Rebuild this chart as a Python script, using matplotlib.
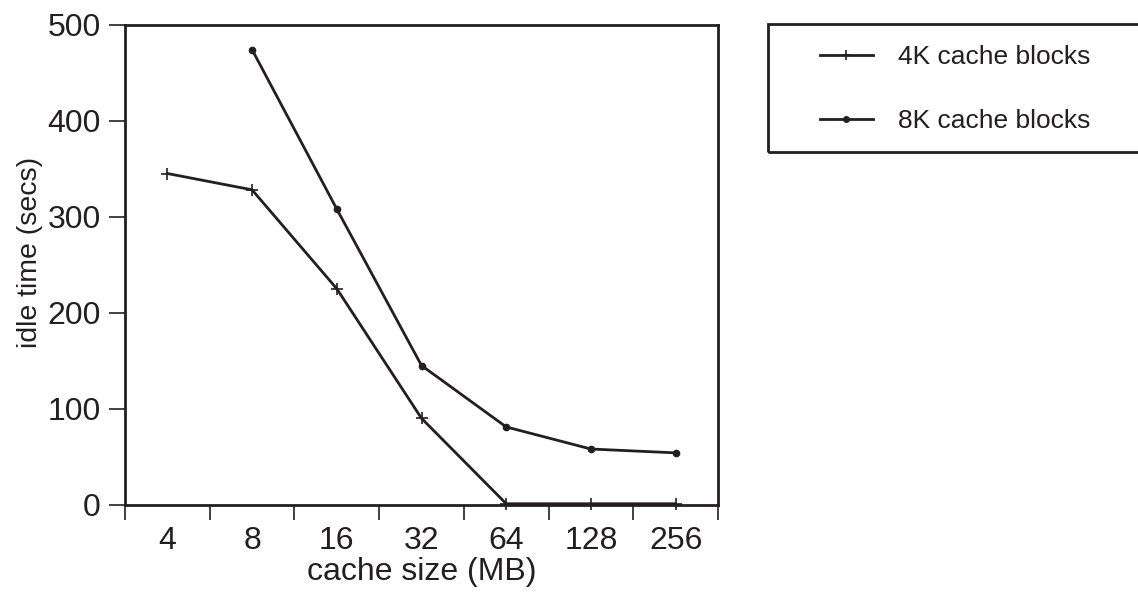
import matplotlib
matplotlib.use("Agg")
import matplotlib.pyplot as plt
from matplotlib.patches import Rectangle
from matplotlib.lines import Line2D

plt.rcParams['font.family'] = ['Liberation Sans', 'DejaVu Sans']

categories = ["4", "8", "16", "32", "64", "128", "256"]
blocks_4k = [345, 328, 225, 90, 1, 1, 1]
blocks_8k_cats = ["8", "16", "32", "64", "128", "256"]
blocks_8k = [474, 308, 145, 81, 58, 54]
yticks = [0, 100, 200, 300, 400, 500]
series_labels = ["4K cache blocks", "8K cache blocks"]

C = '#231f20'

fig = plt.figure(figsize=(11.38, 5.95), dpi=100)
ax = fig.add_axes([125/1138, 1-504.7/595, (718-125)/1138, (504.7-24.7)/595])

x4 = [categories.index(c) for c in categories]
x8 = [categories.index(c) for c in blocks_8k_cats]
ax.plot(x4, blocks_4k, color=C, lw=2, marker='+', ms=8, mew=1.2, clip_on=False, zorder=3)
ax.plot(x8, blocks_8k, color=C, lw=2, marker='o', ms=4.5, clip_on=False, zorder=3)

ax.set_xlim(-0.5, len(categories) - 0.5)
ax.set_ylim(0, 500)
ax.set_yticks(yticks)
ax.set_xticks(range(len(categories)))
ax.set_xticklabels(categories)
ax.set_xticks([i - 0.5 for i in range(len(categories) + 1)], minor=True)
ax.tick_params(axis='x', which='major', length=0, labelsize=23, pad=15, colors=C)
ax.tick_params(axis='x', which='minor', length=11, width=1.2, direction='out', color=C)
ax.tick_params(axis='y', which='major', length=11.5, width=1.2, direction='out', labelsize=23, pad=6, colors=C)
for s in ax.spines.values():
    s.set_linewidth(2)
    s.set_color(C)

ax.set_xlabel("cache size (MB)", fontsize=23, color=C, labelpad=1)
ax.set_ylabel("idle time (secs)", fontsize=20.5, color=C)
ax.yaxis.set_label_coords((43 - 125) / 593, (504.7 - 252) / 480)

# legend frame (extends past right edge in the reference)
fig.patches.append(Rectangle((768/1138, 1-152/595), 400/1138, 128/595,
                             transform=fig.transFigure, fill=False, edgecolor=C, lw=2))
handles = [Line2D([], [], color=C, lw=2, marker='+', ms=7, mew=1.2),
           Line2D([], [], color=C, lw=2, marker='o', ms=4)]
fig.legend(handles, series_labels, loc='upper left', bbox_to_anchor=(796/1138, 1-21/595),
           frameon=False, fontsize=19, handlelength=2.0, handletextpad=0.95,
           labelspacing=1.52, labelcolor=C)

fig.savefig("out.png", dpi=100)
